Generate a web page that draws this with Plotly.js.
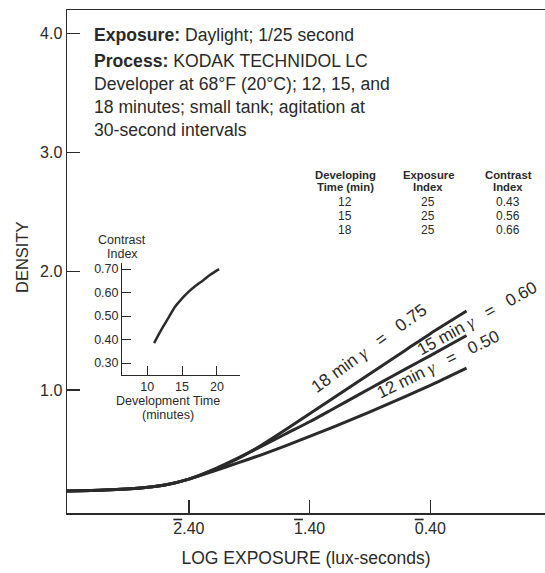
<!DOCTYPE html>
<html>
<head>
<meta charset="utf-8">
<script src="https://cdn.plot.ly/plotly-3.0.1.min.js"></script>
<style>html,body{margin:0;padding:0;background:#fff;}#chart{width:545px;height:573px;}</style>
</head>
<body>
<div id="chart"></div>
<script>
// ---- data ----
const logExposure = [-2.61, -2.3, -2.0, -1.8, -1.6, -1.4, -1.2, -1.0, -0.8, -0.6, -0.4, -0.2, 0.0, 0.2, 0.4, 0.70];
const density18 = [0.15, 0.158, 0.175, 0.20, 0.25, 0.325, 0.42, 0.535, 0.665, 0.80, 0.935, 1.07, 1.205, 1.34, 1.475, 1.665];
const density15 = [0.15, 0.158, 0.175, 0.20, 0.25, 0.33, 0.425, 0.525, 0.63, 0.733, 0.845, 0.957, 1.069, 1.18, 1.29, 1.46];
const density12 = [0.15, 0.158, 0.175, 0.20, 0.25, 0.315, 0.385, 0.455, 0.53, 0.61, 0.69, 0.775, 0.86, 0.95, 1.04, 1.185];
const curveMinutes = ['18', '15', '12'];
const curveGamma = ['0.75', '0.60', '0.50'];

const insetTime = [11, 12, 13, 14, 15, 16, 17, 18, 19, 20.3];
const insetContrast = [0.385, 0.44, 0.49, 0.54, 0.575, 0.605, 0.63, 0.652, 0.675, 0.70];

const xTickVals = [-1.6, -0.6, 0.4];
const xTickChar = ['2', '1', '0'];
const xTickRest = ['.40', '.40', '.40'];
const yTickVals = [1, 2, 3, 4];
const yTickText = ['1.0', '2.0', '3.0', '4.0'];
const insetXTicks = [10, 15, 20];
const insetYTicks = [0.30, 0.40, 0.50, 0.60, 0.70];
const insetYText = ['0.30', '0.40', '0.50', '0.60', '0.70'];

const tableHeaders = [['Developing', 'Time (min)'], ['Exposure', 'Index'], ['Contrast', 'Index']];
const devTimes = ['12', '15', '18'];
const exposureIndex = ['25', '25', '25'];
const contrastIndex = ['0.43', '0.56', '0.66'];

const noteLines = [
  '<b>Exposure:</b> Daylight; 1/25 second',
  '<b>Process:</b> KODAK TECHNIDOL LC',
  'Developer at 68\u00b0F (20\u00b0C); 12, 15, and',
  '18 minutes; small tank; agitation at',
  '30-second intervals'
];

// ---- layout helpers ----
const L = 67, R = 545, T = 10, B = 513;
const px = x => (x - L) / (R - L);
const py = y => (B - y) / (B - T);
const FONT = 'Liberation Sans, Arial, Helvetica, sans-serif';
const INK = '#2a2a2a';

const lineStyle = {color: INK, width: 3, shape: 'spline', smoothing: 0.6};
const traces = [
  {x: logExposure, y: density18, mode: 'lines', line: lineStyle, hoverinfo: 'skip'},
  {x: logExposure, y: density15, mode: 'lines', line: lineStyle, hoverinfo: 'skip'},
  {x: logExposure, y: density12, mode: 'lines', line: lineStyle, hoverinfo: 'skip'},
  {x: insetTime, y: insetContrast, xaxis: 'x2', yaxis: 'y2', mode: 'lines',
   line: {color: INK, width: 2.5, shape: 'spline'}, hoverinfo: 'skip'}
];

const ann = [];
function txt(text, x, y, size, opts) {
  ann.push(Object.assign({text: text, xref: 'paper', yref: 'paper', x: px(x), y: py(y),
    showarrow: false, font: {family: FONT, size: size, color: INK},
    xanchor: 'center', yanchor: 'middle'}, opts || {}));
}
// note block
const noteY = [35, 61, 84, 107, 130];
noteLines.forEach((t, i) => txt(t, 92, noteY[i], 17.6, {xanchor: 'left'}));
// table
const colX = [345, 428, 508];
tableHeaders.forEach((h, i) => {
  txt('<b>' + h[0] + '</b>', colX[i], 175, 11.3);
  txt('<b>' + h[1] + '</b>', colX[i], 187, 11.3);
});
const rowY = [202, 216, 230];
[devTimes, exposureIndex, contrastIndex].forEach((col, i) => {
  col.forEach((v, j) => txt(v, colX[i], rowY[j], 12));
});
// curve labels
const gam = '<span style="font-family:Liberation Serif"><i>\u03b3</i></span>';
const sp = '\u00a0\u00a0\u00a0';
const lab = i => curveMinutes[i] + ' min ' + gam + sp + '=' + sp + curveGamma[i];
txt(lab(0), 369, 348, 17.5, {textangle: -36});
txt(lab(1), 477, 318, 17, {textangle: -29});
txt(lab(2), 438, 364, 17, {textangle: -26});
// inset labels
txt('Contrast', 122, 240, 12.5);
txt('Index', 122, 254, 12.5);
txt('Development Time', 168, 401, 12.5);
txt('(minutes)', 168, 415, 12.5);
// y title
txt('DENSITY', 22, 257, 16.5, {textangle: -90});

const xTickText = xTickVals.map((v, i) =>
  '<span style="text-decoration:overline">' + xTickChar[i] + '</span>' + xTickRest[i]);

const layout = {
  width: 545, height: 573,
  margin: {l: L, r: 545 - R, t: T, b: 573 - B},
  paper_bgcolor: '#fff', plot_bgcolor: '#fff',
  showlegend: false,
  font: {family: FONT, color: INK},
  xaxis: {
    range: [-2.61, 1.35], showgrid: false, zeroline: false,
    showline: true, linecolor: INK, linewidth: 1.5, mirror: true,
    ticks: 'inside', ticklen: 13, tickwidth: 1.2, tickcolor: INK,
    tickvals: xTickVals, ticktext: xTickText,
    tickfont: {family: FONT, size: 16, color: INK},
    title: {text: 'LOG EXPOSURE (lux-seconds)', font: {family: FONT, size: 17.5, color: INK}, standoff: 16}
  },
  yaxis: {
    range: [-0.035, 4.2], showgrid: false, zeroline: false,
    showline: true, linecolor: INK, linewidth: 1.5,
    ticks: 'inside', ticklen: 13, tickwidth: 1.2, tickcolor: INK,
    tickvals: yTickVals, ticktext: yTickText,
    tickfont: {family: FONT, size: 16, color: INK}
  },
  xaxis2: {
    domain: [px(122), px(240)], anchor: 'y2', range: [6.4, 23.3],
    showgrid: false, zeroline: false, showline: true, linecolor: INK, linewidth: 1,
    ticks: 'inside', ticklen: 9, tickwidth: 1, tickcolor: INK,
    tickvals: insetXTicks, tickfont: {family: FONT, size: 12.5, color: INK}
  },
  yaxis2: {
    domain: [py(375), py(263)], anchor: 'x2', range: [0.249, 0.726],
    showgrid: false, zeroline: false, showline: true, linecolor: INK, linewidth: 1,
    ticks: 'inside', ticklen: 9, tickwidth: 1, tickcolor: INK,
    tickvals: insetYTicks, ticktext: insetYText, tickfont: {family: FONT, size: 12.5, color: INK}
  },
  annotations: ann
};

Plotly.newPlot('chart', traces, layout, {staticPlot: true, displayModeBar: false});
</script>
</body>
</html>
